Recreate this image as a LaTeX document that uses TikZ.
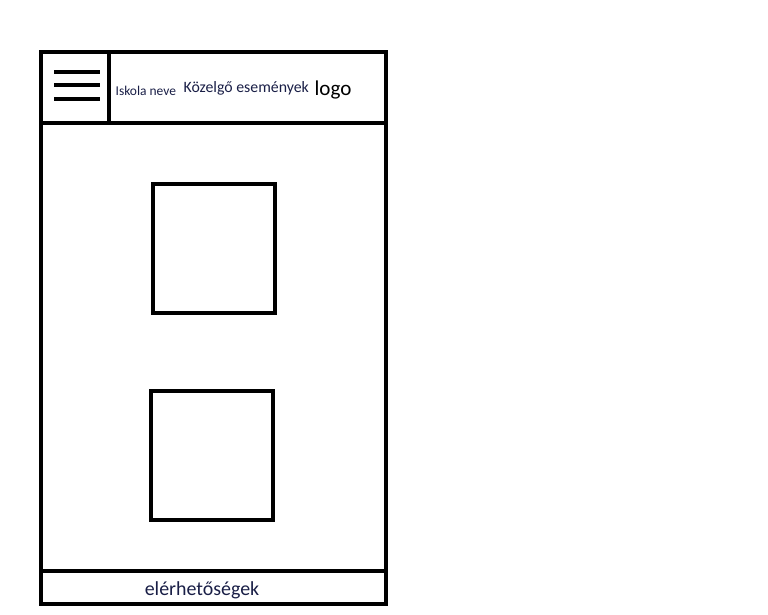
\documentclass[tikz,border=0pt]{standalone}
\usepackage{fontspec}
\setmainfont{Carlito}
\usepackage{xcolor}
\usepackage{tikz}
\usetikzlibrary{positioning}

\definecolor{inkblue}{RGB}{25,30,70}

\begin{document}
\begin{tikzpicture}[x=0.03cm, y=-0.03cm, line width=2.8pt]

\useasboundingbox (0,0) rectangle (768,614);

% Outer frame
\draw (41,52) rectangle (386,604);

% Header
\draw (40,123) -- (386,123);
\draw (109,52) -- (109,123);
\draw (54,72) -- (100,72);
\draw (54,85) -- (100,85);
\draw (54,99) -- (100,99);
\node[font=\fontsize{11.5}{13}\selectfont, inkblue, anchor=west, inner sep=0pt] (name) at (114,91) {Iskola neve};
\node[font=\fontsize{13.5}{15}\selectfont, inkblue, anchor=west, inner sep=0pt] (events) at (182,88) {Közelgő események};
\node[font=\fontsize{18}{20}\selectfont, anchor=west, inner sep=0pt] (logo) at (313,90) {logo};

% Content boxes
\draw (153,184) rectangle (275,313);
\draw (151,391) rectangle (273,520);

% Footer
\draw (41,571) -- (386,571);
\node[font=\fontsize{17}{19}\selectfont, inkblue, inner sep=0pt] (contact) at (202,590) {elérhetőségek};

\end{tikzpicture}
\end{document}
